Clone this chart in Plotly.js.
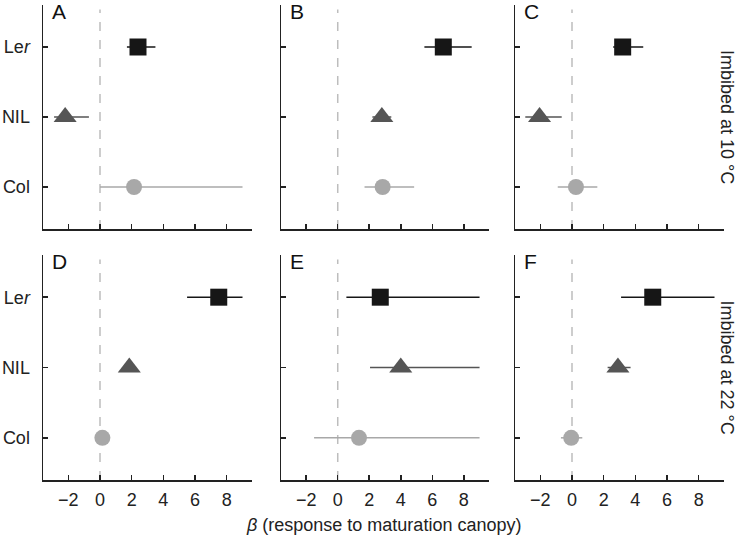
<!DOCTYPE html>
<html>
<head>
<meta charset="utf-8">
<script src="https://cdn.plot.ly/plotly-3.0.1.min.js"></script>
<style>html,body{margin:0;padding:0;background:#fff;}#chart{width:738px;height:537px;}</style>
</head>
<body>
<div id="chart"></div>
<script>
// Panels A-F (A,B,C: imbibed at 10 °C; D,E,F: imbibed at 22 °C)
const panels = ['A', 'B', 'C', 'D', 'E', 'F'];
const genotypes = ['Ler', 'NIL', 'Col'];
const genotypeLabels = ['Le<i>r</i>', 'NIL', 'Col'];
const rowLabels = ['Imbibed at 10 °C', 'Imbibed at 22 °C'];
const xTicks = [-2, 0, 2, 4, 6, 8];

// beta estimates and interval bounds per panel
const lerEst = [2.4, 6.7, 3.2, 7.5, 2.7, 5.1];
const lerLo  = [1.7, 5.5, 2.6, 5.5, 0.55, 3.1];
const lerHi  = [3.5, 8.5, 4.5, 9.0, 9.0, 9.0];

const nilEst = [-2.2, 2.8, -2.05, 1.85, 4.0, 2.9];
const nilLo  = [-2.9, 2.2, -2.95, 1.5, 2.05, 2.25];
const nilHi  = [-0.7, 3.4, -0.65, 2.2, 9.0, 3.7];

const colEst = [2.15, 2.85, 0.25, 0.15, 1.35, -0.05];
const colLo  = [0.0, 1.7, -0.9, -0.15, -1.5, -0.7];
const colHi  = [9.0, 4.85, 1.6, 0.45, 9.0, 0.65];

const series = [
  {name: 'Ler', y: 2, est: lerEst, lo: lerLo, hi: lerHi, symbol: 'square', size: 17, color: '#161616'},
  {name: 'NIL', y: 1, est: nilEst, lo: nilLo, hi: nilHi, symbol: 'triangle-up', size: 20, color: '#555555'},
  {name: 'Col', y: 0, est: colEst, lo: colLo, hi: colHi, symbol: 'circle', size: 16, color: '#a8a8a8'}
];

const W = 738, H = 537;
const xDomPx = [[43, 252], [281, 489], [515, 724]];
const yDomPx = [[5, 229], [255, 480]];
const FONT = 'Liberation Sans, Arial, Helvetica, sans-serif';

const traces = [];
const layout = {
  width: W, height: H,
  margin: {l: 0, r: 0, t: 0, b: 0},
  paper_bgcolor: '#ffffff', plot_bgcolor: '#ffffff',
  showlegend: false,
  font: {family: FONT, size: 18, color: '#222'},
  shapes: [], annotations: []
};

panels.forEach((p, i) => {
  const row = Math.floor(i / 3), col = i % 3;
  const n = i + 1;
  const xa = 'x' + (n === 1 ? '' : n), ya = 'y' + (n === 1 ? '' : n);
  const xk = 'xaxis' + (n === 1 ? '' : n), yk = 'yaxis' + (n === 1 ? '' : n);
  layout[xk] = {
    domain: [xDomPx[col][0] / W, xDomPx[col][1] / W],
    anchor: ya, range: [-3.6, 9.6],
    tickvals: xTicks, ticktext: xTicks.map(v => v < 0 ? '\u2212' + Math.abs(v) : String(v)),
    showticklabels: row === 1,
    ticks: 'inside', ticklen: 5, tickwidth: 1.5, tickcolor: '#222',
    ticklabelstandoff: 3,
    showline: true, linewidth: 1.5, linecolor: '#222',
    showgrid: false, zeroline: false, fixedrange: true,
    tickfont: {family: FONT, size: 18, color: '#222'}
  };
  layout[yk] = {
    domain: [1 - yDomPx[row][1] / H, 1 - yDomPx[row][0] / H],
    anchor: xa, range: [-0.6, 2.6],
    tickvals: [2, 1, 0], ticktext: genotypeLabels,
    showticklabels: col === 0,
    ticks: 'inside', ticklen: 5, tickwidth: 1.5, tickcolor: '#222',
    ticklabelstandoff: 8,
    showline: true, linewidth: 1.5, linecolor: '#222',
    showgrid: false, zeroline: false, fixedrange: true,
    tickfont: {family: FONT, size: 18, color: '#222'}
  };
  layout.shapes.push({
    type: 'line', xref: xa, yref: ya + ' domain',
    x0: 0, x1: 0, y0: 0, y1: 0.98,
    line: {color: '#bdbdbd', width: 1.5, dash: 'dash'}, layer: 'below'
  });
  layout.annotations.push({
    text: p, xref: xa + ' domain', yref: ya + ' domain',
    x: 0.035, y: 1.03, xanchor: 'left', yanchor: 'top', showarrow: false,
    font: {family: FONT, size: 21, color: '#111'}
  });
  series.slice().reverse().forEach(s => {
    traces.push({
      type: 'scatter', mode: 'markers', xaxis: xa, yaxis: ya,
      x: [s.est[i]], y: [s.y], name: s.name,
      marker: {symbol: s.symbol, size: s.size, color: s.color, line: {width: 0}},
      error_x: {
        type: 'data', symmetric: false,
        array: [s.hi[i] - s.est[i]], arrayminus: [s.est[i] - s.lo[i]],
        color: s.color, thickness: 1.5, width: 0
      },
      hoverinfo: 'x+name'
    });
  });
});

rowLabels.forEach((t, r) => {
  const mid = (yDomPx[r][0] + yDomPx[r][1]) / 2;
  layout.annotations.push({
    text: t, xref: 'paper', yref: 'paper',
    x: 727 / W, y: 1 - mid / H, xanchor: 'center', yanchor: 'middle',
    textangle: 90, showarrow: false, borderpad: 0,
    font: {family: FONT, size: 18, color: '#222'}
  });
});

layout.annotations.push({
  text: '<i>β</i> (response to maturation canopy)', xref: 'paper', yref: 'paper',
  x: 383 / W, y: 1 - 525 / H, xanchor: 'center', yanchor: 'middle', showarrow: false,
  font: {family: FONT, size: 18, color: '#222'}
});

Plotly.newPlot('chart', traces, layout, {staticPlot: true, displayModeBar: false});
</script>
</body>
</html>
